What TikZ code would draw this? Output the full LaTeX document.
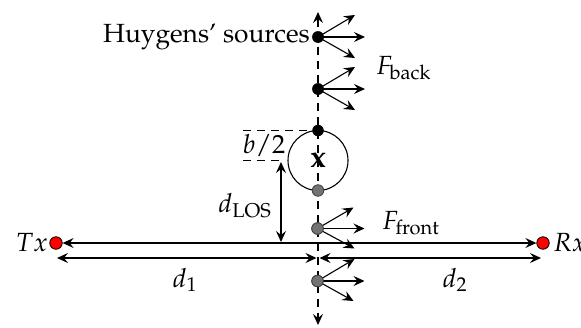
\documentclass[tikz,border=0pt]{standalone}
\usepackage[T1]{fontenc}
\usepackage{mathpazo}
\usetikzlibrary{arrows.meta}
\begin{document}
\begin{tikzpicture}[x=1pt,y=-1pt,
  every node/.style={font=\fontsize{26.3}{31}\selectfont},
  arr/.style={line width=1.1pt,-{Stealth[length=11pt,width=10pt,inset=4pt]}},
  darr/.style={line width=1.1pt,{Stealth[length=11pt,width=10pt,inset=4pt]}-{Stealth[length=11pt,width=10pt,inset=4pt]}},
  bdot/.style={circle,fill=black,inner sep=0pt,minimum size=11.5pt},
  gdot/.style={circle,fill=black!55,draw=black!75,line width=0.8pt,inner sep=0pt,minimum size=11.5pt},
  rdot/.style={circle,fill=red,draw=black,line width=0.8pt,inner sep=0pt,minimum size=12.5pt},
  dsh/.style={line width=1.1pt,dash pattern=on 8pt off 6pt},
  lbl/.style={inner sep=0pt}]
\useasboundingbox (0,0) rectangle (581,327);
% axis
\coordinate (top) at (318,12);
\coordinate (bot) at (318,325);
\draw[dsh,{Stealth[length=11pt,width=10pt,inset=4pt]}-{Stealth[length=11pt,width=10pt,inset=4pt]}] (top) -- (bot);
% circle
\node[circle,draw,line width=1.1pt,minimum size=60pt,inner sep=0pt,font=\fontsize{31}{34}\selectfont] (x) at (318,160.5) {\textbf{x}};
% sources
\node[bdot] (s1) at (318,37) {};
\node[bdot] (s2) at (318,89) {};
\node[bdot] (s3) at (318,130.5) {};
\node[gdot] (s4) at (318,190.5) {};
\node[gdot] (s5) at (317.5,228.5) {};
\node[gdot] (s6) at (317.5,281) {};
\foreach \s in {s1,s2}{
  \draw[arr] (\s.center) -- ++(37,-22);
  \draw[arr] (\s.center) -- ++(47,0);
  \draw[arr] (\s.center) -- ++(37,21);
}
\draw[arr] (s5.center) -- ++(36,-21);
\draw[arr] (s5.center) -- ++(47,0);
\draw[arr] (s5.center) -- ++(37,20);
\draw[arr] (s6.center) -- ++(37,-22);
\draw[arr] (s6.center) -- ++(47,0);
\draw[arr] (s6.center) -- ++(36,20);
\node[bdot] at (s1) {};
\node[bdot] at (s2) {};
\node[gdot] at (s5) {};
\node[gdot] at (s6) {};
% Tx Rx
\node[rdot] (tx) at (56,243) {};
\node[rdot] (rx) at (543,243) {};
\draw[darr] (tx.east) -- (rx.west);
\node[lbl,anchor=east] (txl) at (48,243) {$Tx$};
\node[lbl,anchor=west] (rxl) at (553,243) {$Rx$};
% d1 d2
\coordinate (d1l) at (57,258);
\coordinate (d1r) at (316.5,258);
\coordinate (d2l) at (319.5,258);
\coordinate (d2r) at (541,258);
\draw[darr] (d1l) -- (d1r);
\draw[darr] (d2l) -- (d2r);
\node[lbl] (d1) at (185,280) {$d_1$};
\node[lbl] (d2) at (455,280) {$d_2$};
% dLOS
\coordinate (l1) at (281,162);
\coordinate (l2) at (281,242);
\draw[darr] (l1) -- (l2);
\node[lbl] (dlos) at (245,206) {$d_{\mathrm{LOS}}$};
% b/2
\coordinate (b1) at (243,130.5);
\coordinate (b2) at (243,160.5);
\coordinate (b3) at (284,160.5);
\draw[dsh] (b1) -- (s3.center);
\draw[dsh] (b2) -- (b3);
\node[lbl] (bl) at (264,145) {$b/2$};
% labels
\node[lbl,anchor=east] (hs) at (310,37) {Huygens' sources};
\node[lbl,anchor=west] (fb) at (376,68) {$F_{\mathrm{back}}$};
\node[lbl,anchor=west] (ff) at (382,223) {$F_{\mathrm{front}}$};
\end{tikzpicture}
\end{document}
